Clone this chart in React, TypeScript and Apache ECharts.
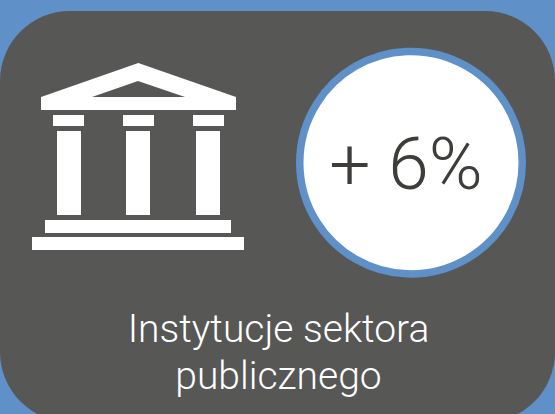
import React, { useEffect, useRef } from "react";
import * as echarts from "echarts";

const valueLabel = "+ 6%";
const labelLines = ["Instytucje sektora", "publicznego"];
const BLUE = "#6090c8";
const PANEL = "#575756";
const WHITE = "#ffffff";
const INK = "#3e3d3a";
const FONT = "Roboto";

const rects = [
  [53, 115, 31, 11], [123, 115, 31, 11], [193, 115, 31, 11],
  [57, 131, 24, 84], [126, 131, 24, 84], [196, 131, 24, 84],
  [45, 220, 186, 13], [32, 237, 212, 13],
];

export default function App() {
  const ref = useRef<HTMLDivElement>(null);
  useEffect(() => {
    document.body.style.margin = "0";
    const chart = echarts.init(ref.current!, null, { renderer: "svg" });
    chart.setOption({
      animation: false,
      backgroundColor: BLUE,
      graphic: [
        { type: "rect", shape: { x: 0, y: 11, width: 555, height: 411, r: 70 }, style: { fill: PANEL } },
        { type: "polygon", shape: { points: [[41, 97], [138.3, 63], [236, 97], [236, 110], [41, 110]] }, style: { fill: WHITE } },
        { type: "polygon", shape: { points: [[92, 97], [138, 81], [185, 97]] }, style: { fill: PANEL } },
        ...rects.map(([x, y, width, height]) => ({ type: "rect", shape: { x, y, width, height }, style: { fill: WHITE } })),
        { type: "circle", shape: { cx: 411, cy: 162.7, r: 111.25 }, style: { fill: WHITE, stroke: BLUE, lineWidth: 7.5 } },
        { type: "text", x: 406, y: 164, style: { text: valueLabel, fill: INK, font: `300 73px ${FONT}`, textAlign: "center", textVerticalAlign: "middle" } },
        { type: "text", x: 278.5, y: 329, style: { text: labelLines[0], fill: WHITE, font: `300 39px ${FONT}`, textAlign: "center", textVerticalAlign: "middle" } },
        { type: "text", x: 278.5, y: 376, style: { text: labelLines[1], fill: WHITE, font: `300 39px ${FONT}`, textAlign: "center", textVerticalAlign: "middle" } },
      ],
    });
    return () => chart.dispose();
  }, []);
  return <div ref={ref} style={{ width: 555, height: 414 }} />;
}
